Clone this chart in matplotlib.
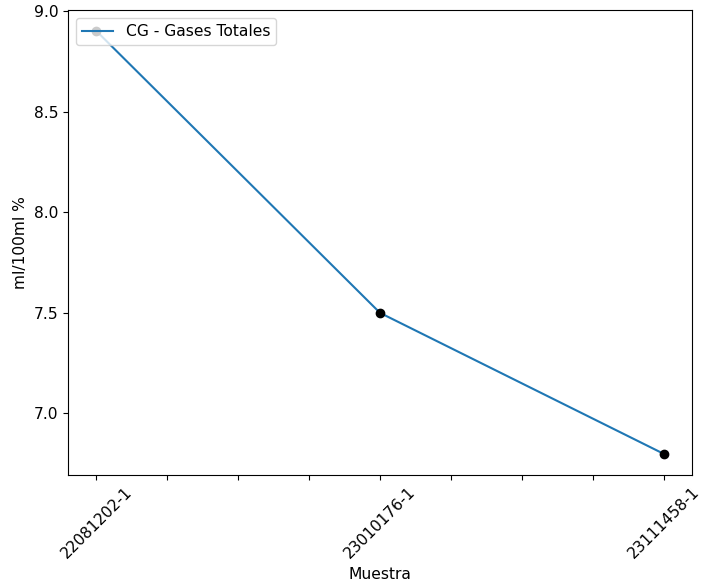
import matplotlib.pyplot as plt
import numpy as np
from matplotlib.ticker import MultipleLocator

# datos
muestras = ["22081202-1", "23010176-1", "23111458-1"]
gases_totales = [8.9, 7.5, 6.8]

FS = 11.2

fig, ax = plt.subplots(figsize=(7.17, 5.87), dpi=100)
pos = np.arange(len(muestras))

ax.plot(pos, gases_totales, color="#1f77b4", linewidth=1.5, label="CG - Gases Totales")
ax.plot(pos, gases_totales, "o", color="black", markersize=6)

ax.set_xticks(pos)
ax.set_xticklabels(muestras, rotation=45, fontsize=FS)
ax.xaxis.set_minor_locator(MultipleLocator(0.25))
ax.tick_params(axis="x", which="minor", length=3.5, width=0.8)
ax.tick_params(axis="y", labelsize=FS)

ax.set_xlabel("Muestra", fontsize=FS)
ax.set_ylabel("ml/100ml %", fontsize=FS)
ax.legend(loc="upper left", fontsize=FS)

fig.subplots_adjust(left=0.095, right=0.965, top=0.983, bottom=0.191)
fig.savefig("out.png")
